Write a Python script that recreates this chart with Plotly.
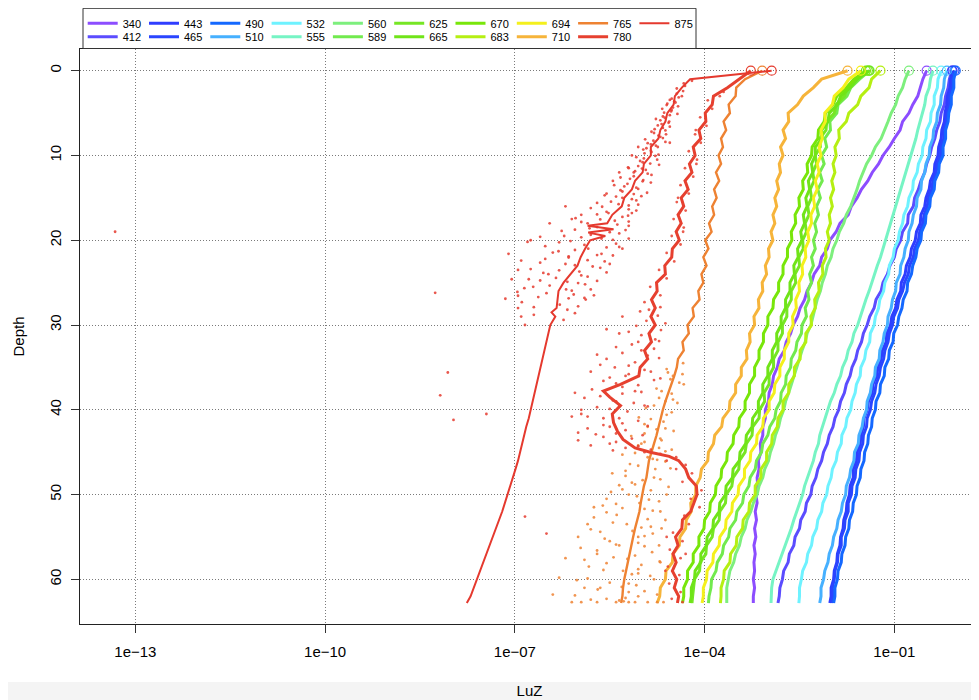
import plotly.graph_objects as go

# ---------------- data (log10 of LuZ) ----------------
depth_m = [0, 1, 2, 3, 4, 5, 6, 7, 8, 9,
           10, 11, 12, 13, 14, 15, 16, 17, 18, 19,
           20, 21, 22, 23, 24, 25, 26, 27, 28, 29,
           30, 31, 32, 33, 34, 35, 36, 37, 38, 39,
           40, 41, 42, 43, 44, 45, 46, 47, 48, 49,
           50, 51, 52, 53, 54, 55, 56, 57, 58, 59,
           60, 61, 62, 62.8]

depth_780 = [0, 1, 2, 3, 4, 5, 6, 7, 8, 9,
             10, 11, 12, 13, 14, 15, 16, 17, 18, 19,
             20, 21, 22, 23, 24, 25, 26, 27, 28, 29,
             30, 31, 32, 33, 34, 35, 36,
             37, 37.8, 38.5, 39.5, 40.5, 41.5, 42.5, 43.5, 44.5, 45, 45.5, 46,
             47, 48, 49, 50, 51, 52, 53, 54, 55, 56, 57, 58, 59, 60, 61, 62,
             62.8]

depth_875 = [0, 1, 2, 3, 4, 5, 6, 7, 8, 9, 10, 11, 12, 13, 14, 15, 16, 17,
             18, 18.3, 18.7, 19.1, 19.5, 20,
             21, 22, 23, 24, 25, 26, 27, 28,
             28.5, 29, 30,
             31, 32, 33, 34, 35, 36, 37, 38, 39, 40,
             41, 42, 43, 44, 45, 46, 47, 48, 49, 50,
             51, 52, 53, 54, 55, 56, 57, 58, 59, 60,
             61, 62,
             62.8]

luz_340 = [-0.49, -0.55, -0.59, -0.63, -0.71, -0.77, -0.87, -0.91, -1.00, -1.08,
           -1.18, -1.25, -1.35, -1.42, -1.52, -1.59, -1.68, -1.73, -1.86, -1.92,
           -2.02, -2.06, -2.15, -2.18, -2.27, -2.31, -2.38, -2.42, -2.49, -2.53,
           -2.60, -2.64, -2.71, -2.74, -2.82, -2.85, -2.91, -2.93, -2.98, -2.99,
           -3.04, -3.04, -3.08, -3.08, -3.12, -3.11, -3.15, -3.14, -3.17, -3.16,
           -3.19, -3.17, -3.20, -3.18, -3.21, -3.19, -3.22, -3.20, -3.22, -3.21,
           -3.23, -3.21, -3.23, -3.23]
luz_412 = [-0.09, -0.13, -0.15, -0.19, -0.21, -0.26, -0.28, -0.33, -0.36, -0.41,
           -0.44, -0.49, -0.52, -0.58, -0.62, -0.68, -0.70, -0.78, -0.79, -0.87,
           -0.90, -0.97, -1.00, -1.07, -1.11, -1.18, -1.21, -1.29, -1.32, -1.39,
           -1.43, -1.49, -1.52, -1.58, -1.61, -1.67, -1.70, -1.76, -1.79, -1.85,
           -1.88, -1.94, -1.97, -2.03, -2.06, -2.12, -2.15, -2.21, -2.24, -2.30,
           -2.32, -2.39, -2.41, -2.48, -2.50, -2.57, -2.59, -2.66, -2.68, -2.75,
           -2.77, -2.81, -2.82, -2.84]
luz_443 = [-0.08, -0.11, -0.12, -0.16, -0.17, -0.20, -0.21, -0.25, -0.26, -0.30,
           -0.31, -0.36, -0.37, -0.43, -0.45, -0.50, -0.52, -0.58, -0.59, -0.65,
           -0.67, -0.73, -0.75, -0.81, -0.83, -0.89, -0.90, -0.96, -0.98, -1.04,
           -1.06, -1.12, -1.13, -1.19, -1.21, -1.26, -1.28, -1.34, -1.35, -1.41,
           -1.43, -1.48, -1.49, -1.53, -1.54, -1.59, -1.60, -1.65, -1.65, -1.70,
           -1.71, -1.75, -1.76, -1.80, -1.81, -1.85, -1.86, -1.90, -1.91, -1.95,
           -1.96, -2.00, -2.00, -2.02]
luz_465 = [-0.05, -0.08, -0.09, -0.13, -0.13, -0.17, -0.18, -0.22, -0.22, -0.27,
           -0.27, -0.32, -0.34, -0.39, -0.41, -0.46, -0.48, -0.53, -0.55, -0.60,
           -0.62, -0.68, -0.70, -0.76, -0.78, -0.84, -0.87, -0.93, -0.95, -1.01,
           -1.03, -1.08, -1.10, -1.15, -1.17, -1.22, -1.24, -1.29, -1.31, -1.36,
           -1.38, -1.43, -1.44, -1.49, -1.50, -1.55, -1.56, -1.61, -1.62, -1.67,
           -1.68, -1.73, -1.73, -1.78, -1.79, -1.84, -1.84, -1.89, -1.90, -1.94,
           -1.95, -1.98, -1.97, -1.99]
luz_490 = [-0.03, -0.06, -0.06, -0.10, -0.10, -0.14, -0.15, -0.19, -0.19, -0.23,
           -0.23, -0.29, -0.30, -0.36, -0.37, -0.43, -0.44, -0.50, -0.51, -0.57,
           -0.58, -0.64, -0.66, -0.71, -0.73, -0.79, -0.80, -0.86, -0.88, -0.93,
           -0.95, -1.01, -1.02, -1.08, -1.09, -1.15, -1.16, -1.22, -1.23, -1.29,
           -1.30, -1.35, -1.36, -1.41, -1.42, -1.47, -1.48, -1.53, -1.54, -1.59,
           -1.60, -1.65, -1.66, -1.71, -1.72, -1.77, -1.78, -1.83, -1.84, -1.89,
           -1.90, -1.94, -1.94, -1.96]
luz_510 = [-0.17, -0.21, -0.22, -0.26, -0.27, -0.32, -0.33, -0.38, -0.39, -0.44,
           -0.45, -0.50, -0.52, -0.57, -0.58, -0.64, -0.65, -0.70, -0.72, -0.77,
           -0.78, -0.83, -0.85, -0.90, -0.91, -0.97, -0.98, -1.03, -1.05, -1.10,
           -1.11, -1.16, -1.18, -1.23, -1.24, -1.30, -1.31, -1.36, -1.38, -1.43,
           -1.44, -1.49, -1.51, -1.56, -1.57, -1.63, -1.64, -1.69, -1.71, -1.76,
           -1.77, -1.82, -1.84, -1.89, -1.91, -1.96, -1.98, -2.03, -2.05, -2.10,
           -2.12, -2.16, -2.16, -2.18]
luz_532 = [-0.26, -0.31, -0.32, -0.37, -0.37, -0.42, -0.43, -0.49, -0.50, -0.55,
           -0.56, -0.62, -0.64, -0.70, -0.71, -0.77, -0.79, -0.85, -0.87, -0.92,
           -0.94, -1.00, -1.02, -1.08, -1.09, -1.15, -1.17, -1.23, -1.25, -1.30,
           -1.32, -1.38, -1.39, -1.45, -1.47, -1.53, -1.54, -1.60, -1.62, -1.67,
           -1.69, -1.75, -1.77, -1.83, -1.84, -1.90, -1.92, -1.98, -2.00, -2.05,
           -2.07, -2.13, -2.15, -2.21, -2.23, -2.29, -2.31, -2.37, -2.39, -2.45,
           -2.47, -2.50, -2.50, -2.51]
luz_555 = [-0.39, -0.43, -0.45, -0.50, -0.52, -0.56, -0.59, -0.63, -0.66, -0.70,
           -0.73, -0.78, -0.81, -0.86, -0.89, -0.94, -0.97, -1.02, -1.05, -1.10,
           -1.13, -1.18, -1.22, -1.27, -1.31, -1.36, -1.40, -1.45, -1.49, -1.54,
           -1.58, -1.64, -1.67, -1.73, -1.76, -1.82, -1.85, -1.91, -1.95, -2.01,
           -2.05, -2.10, -2.13, -2.18, -2.20, -2.25, -2.28, -2.33, -2.37, -2.42,
           -2.45, -2.50, -2.54, -2.59, -2.63, -2.68, -2.72, -2.78, -2.82, -2.88,
           -2.92, -2.94, -2.94, -2.95]
luz_560 = [-0.77, -0.83, -0.87, -0.94, -0.98, -1.05, -1.10, -1.16, -1.21, -1.30,
           -1.36, -1.44, -1.50, -1.55, -1.59, -1.64, -1.69, -1.76, -1.80, -1.87,
           -1.91, -1.97, -2.00, -2.06, -2.09, -2.14, -2.17, -2.22, -2.25, -2.29,
           -2.32, -2.38, -2.41, -2.46, -2.50, -2.55, -2.58, -2.63, -2.67, -2.72,
           -2.75, -2.80, -2.83, -2.88, -2.91, -2.96, -2.99, -3.05, -3.08, -3.14,
           -3.17, -3.23, -3.27, -3.33, -3.36, -3.42, -3.45, -3.51, -3.54, -3.60,
           -3.63, -3.65, -3.65, -3.65]
luz_589 = [-1.39, -1.55, -1.69, -1.75, -1.89, -1.91, -2.02, -2.01, -2.10, -2.07,
           -2.15, -2.11, -2.18, -2.14, -2.21, -2.17, -2.23, -2.20, -2.26, -2.23,
           -2.28, -2.25, -2.31, -2.28, -2.34, -2.31, -2.37, -2.35, -2.41, -2.39,
           -2.46, -2.47, -2.54, -2.56, -2.63, -2.64, -2.71, -2.72, -2.79, -2.80,
           -2.87, -2.89, -2.97, -3.00, -3.08, -3.10, -3.18, -3.20, -3.28, -3.30,
           -3.38, -3.40, -3.49, -3.51, -3.60, -3.62, -3.70, -3.72, -3.80, -3.82,
           -3.89, -3.90, -3.93, -3.94]
luz_625 = [-1.42, -1.60, -1.74, -1.79, -1.92, -1.95, -2.07, -2.08, -2.18, -2.17,
           -2.25, -2.23, -2.29, -2.27, -2.33, -2.31, -2.37, -2.35, -2.41, -2.39,
           -2.45, -2.44, -2.51, -2.50, -2.57, -2.56, -2.63, -2.63, -2.70, -2.70,
           -2.77, -2.77, -2.84, -2.84, -2.91, -2.91, -2.98, -2.98, -3.06, -3.05,
           -3.13, -3.14, -3.24, -3.25, -3.34, -3.36, -3.45, -3.46, -3.55, -3.57,
           -3.66, -3.67, -3.76, -3.77, -3.86, -3.88, -3.97, -3.98, -4.07, -4.08,
           -4.16, -4.17, -4.19, -4.20]
luz_665 = [-1.40, -1.59, -1.70, -1.85, -1.90, -2.03, -2.05, -2.15, -2.14, -2.25,
           -2.25, -2.31, -2.29, -2.36, -2.34, -2.40, -2.38, -2.44, -2.42, -2.48,
           -2.46, -2.53, -2.52, -2.59, -2.58, -2.65, -2.65, -2.72, -2.72, -2.79,
           -2.79, -2.86, -2.86, -2.93, -2.93, -3.00, -3.00, -3.08, -3.08, -3.15,
           -3.15, -3.24, -3.25, -3.34, -3.35, -3.44, -3.45, -3.55, -3.56, -3.66,
           -3.67, -3.76, -3.77, -3.86, -3.87, -3.96, -3.97, -4.06, -4.06, -4.15,
           -4.16, -4.21, -4.21, -4.23]
luz_670 = [-1.45, -1.64, -1.76, -1.91, -1.97, -2.09, -2.11, -2.20, -2.21, -2.30,
           -2.31, -2.38, -2.37, -2.45, -2.44, -2.51, -2.50, -2.57, -2.56, -2.63,
           -2.62, -2.69, -2.69, -2.76, -2.76, -2.83, -2.83, -2.91, -2.92, -3.00,
           -3.00, -3.07, -3.07, -3.14, -3.14, -3.21, -3.21, -3.29, -3.29, -3.36,
           -3.36, -3.45, -3.46, -3.54, -3.55, -3.64, -3.65, -3.73, -3.74, -3.82,
           -3.83, -3.91, -3.92, -4.00, -4.01, -4.09, -4.09, -4.18, -4.18, -4.27,
           -4.27, -4.33, -4.33, -4.35]
luz_683 = [-1.22, -1.36, -1.40, -1.53, -1.58, -1.72, -1.76, -1.88, -1.87, -1.94,
           -1.92, -1.97, -1.94, -1.99, -1.96, -2.01, -1.98, -2.03, -2.01, -2.06,
           -2.03, -2.09, -2.08, -2.14, -2.13, -2.20, -2.19, -2.26, -2.25, -2.32,
           -2.31, -2.40, -2.40, -2.49, -2.49, -2.58, -2.58, -2.67, -2.67, -2.76,
           -2.76, -2.84, -2.85, -2.93, -2.94, -3.02, -3.02, -3.11, -3.11, -3.20,
           -3.20, -3.29, -3.30, -3.39, -3.40, -3.49, -3.50, -3.59, -3.60, -3.69,
           -3.70, -3.74, -3.74, -3.75]
luz_694 = [-1.53, -1.72, -1.81, -1.95, -1.98, -2.10, -2.09, -2.16, -2.14, -2.19,
           -2.16, -2.22, -2.19, -2.25, -2.22, -2.28, -2.26, -2.32, -2.31, -2.37,
           -2.35, -2.41, -2.40, -2.46, -2.45, -2.51, -2.50, -2.56, -2.55, -2.61,
           -2.60, -2.67, -2.67, -2.74, -2.74, -2.81, -2.81, -2.89, -2.90, -2.98,
           -2.98, -3.07, -3.08, -3.17, -3.18, -3.27, -3.28, -3.37, -3.37, -3.46,
           -3.47, -3.56, -3.57, -3.66, -3.67, -3.76, -3.77, -3.86, -3.87, -3.96,
           -3.97, -4.02, -4.02, -4.04]
luz_710 = [-1.74, -2.15, -2.28, -2.44, -2.53, -2.68, -2.67, -2.76, -2.72, -2.80,
           -2.76, -2.82, -2.80, -2.86, -2.83, -2.89, -2.86, -2.92, -2.89, -2.95,
           -2.92, -2.99, -2.98, -3.04, -3.02, -3.09, -3.08, -3.15, -3.14, -3.22,
           -3.21, -3.29, -3.28, -3.34, -3.33, -3.42, -3.42, -3.51, -3.51, -3.60,
           -3.61, -3.71, -3.73, -3.84, -3.86, -3.94, -3.95, -4.05, -4.07, -4.14,
           -4.14, -4.22, -4.21, -4.29, -4.30, -4.39, -4.40, -4.50, -4.51, -4.61,
           -4.62, -4.70, -4.71, -4.75]
luz_765 = [-3.09, -3.36, -3.50, -3.51, -3.62, -3.60, -3.70, -3.66, -3.74, -3.71,
           -3.78, -3.74, -3.82, -3.77, -3.85, -3.81, -3.88, -3.85, -3.93, -3.89,
           -3.99, -3.94, -4.02, -3.97, -4.05, -4.02, -4.10, -4.08, -4.19, -4.17,
           -4.27, -4.25, -4.35, -4.33, -4.42, -4.44, -4.48, -4.53, -4.58, -4.62,
           -4.66, -4.69, -4.72, -4.76, -4.80, -4.84, -4.88, -4.90, -4.92, -4.96,
           -4.99, -5.01, -5.03, -5.07, -5.10, -5.13, -5.16, -5.19, -5.22, -5.25,
           -5.27, -5.29, -5.30, -5.32]
luz_780 = [-3.27, -3.46, -3.64, -3.86, -3.88, -3.99, -3.98, -4.09, -4.06, -4.18,
           -4.15, -4.24, -4.20, -4.31, -4.26, -4.37, -4.33, -4.42, -4.37, -4.45,
           -4.40, -4.51, -4.52, -4.63, -4.62, -4.76, -4.75, -4.84, -4.78, -4.85,
           -4.78, -4.88, -4.84, -4.95, -4.90, -5.02, -5.04,
           -5.33, -5.60, -5.50, -5.33, -5.46, -5.44, -5.38, -5.29, -5.10, -4.86, -4.56, -4.41,
           -4.30, -4.25, -4.13, -4.12, -4.17, -4.22, -4.35, -4.36, -4.46, -4.42, -4.50, -4.45,
           -4.51, -4.44, -4.48, -4.41,
           -4.43]
luz_875 = [-2.94, -4.23, -4.36, -4.47, -4.49, -4.59, -4.62, -4.70, -4.73, -4.85,
           -4.85, -4.96, -4.98, -5.10, -5.15, -5.27, -5.31, -5.46,
           -5.54, -5.85, -5.44, -5.84, -5.57, -5.81,
           -5.89, -5.96, -6.01, -6.12, -6.23, -6.31, -6.33, -6.34,
           -6.42, -6.36, -6.44,
           -6.47, -6.50, -6.53, -6.56, -6.59, -6.62, -6.66, -6.69, -6.72, -6.75,
           -6.78, -6.82, -6.85, -6.88, -6.92, -6.95, -6.99, -7.03, -7.07, -7.11,
           -7.15, -7.20, -7.25, -7.30, -7.35, -7.40, -7.45, -7.50, -7.55, -7.60,
           -7.65, -7.70,
           -7.76]

# raw (scattered) measurements for the weak red / orange channels
raw875_depth = [1.2, 1.5, 1.8, 2.1, 2.4, 2.7, 3.0, 3.3, 3.6, 3.9,
                4.2, 4.5, 4.8, 5.1, 5.4, 5.7, 6.0, 6.3, 6.6, 6.9,
                7.2, 7.5, 7.8, 8.1, 8.4, 8.7, 9.0, 9.3, 9.6, 9.9,
                10.2, 10.5, 10.8, 11.1, 11.4, 11.7, 12.0, 12.3, 12.6, 12.9,
                13.2, 13.5, 13.8, 14.1, 14.4, 14.7, 15.0, 15.3, 15.6, 15.9,
                16.2, 16.5, 16.8, 17.1, 17.4, 17.7, 18.0, 18.3, 18.6, 18.9,
                19.2, 19.5, 19.8, 20.1, 20.4, 20.7, 21.0, 21.3, 21.6, 21.9,
                22.2, 22.5, 22.8, 23.1, 23.4, 23.7, 24.0, 24.3, 24.6, 24.9,
                25.2, 25.5, 25.8, 26.1, 26.4, 26.7, 27.0, 27.3, 27.6, 27.9,
                28.2, 28.8, 29.4, 30.0,
                14.5, 17.5, 20.0, 21.0, 23.5, 26.5, 11.5, 8.5,
                19.0, 26.2, 35.6, 38.3, 40.5, 41.2, 52.6, 54.6,
                3.15, 3.45, 3.75, 4.05, 4.35, 4.65, 4.95, 5.25, 5.55, 5.85,
                6.15, 6.45, 6.75, 7.05, 7.35, 7.65, 7.95, 8.25, 8.55, 8.85,
                9.15, 9.45, 9.75, 10.05, 10.35, 10.65, 10.95, 11.25, 11.55, 11.85,
                12.15, 12.45, 12.75, 13.05, 13.35, 13.65, 13.95, 14.25, 14.55, 14.85,
                15.15, 15.45, 15.75, 16.05, 16.35, 16.65, 16.95, 17.25, 17.55, 17.85,
                18.15, 18.45, 18.75, 19.05, 19.35, 19.65, 19.95, 20.25, 20.55, 20.85,
                21.15, 21.45, 21.75, 22.05, 22.35, 22.65, 22.95, 23.25, 23.55, 23.85,
                24.15, 24.45, 24.75, 25.05, 25.35, 25.65, 25.95, 26.25, 26.55, 26.85,
                14.8, 15.8, 16.8, 17.8, 18.8, 19.8, 20.8, 21.8, 22.8, 23.8,
                24.8, 25.8, 26.8, 27.8, 28.6, 16.0, 18.0, 20.2, 22.4, 24.6,
                26.9, 28.0, 29.0, 21.6, 19.6, 17.0, 13.0, 12.0, 10.0, 9.0]
raw875_log = [-4.20, -4.33, -4.31, -4.44, -4.34, -4.44, -4.36, -4.52, -4.48, -4.59,
              -4.42, -4.67, -4.53, -4.43, -4.66, -4.77, -4.56, -4.68, -4.55, -4.79,
              -4.84, -4.61, -4.70, -4.94, -4.62, -4.85, -4.74, -4.97, -4.84, -4.73,
              -5.08, -4.75, -4.98, -4.72, -5.21, -4.93, -5.12, -4.84, -5.33, -4.97,
              -4.85, -5.43, -5.08, -5.33, -4.91, -5.58, -5.30, -5.08, -5.70, -5.20,
              -5.80, -5.08, -5.52, -5.21, -6.04, -5.42, -5.85, -5.20, -5.82, -6.26,
              -5.35, -6.22, -5.63, -6.12, -5.40, -6.52, -5.84, -6.31, -5.63, -6.15,
              -6.52, -5.58, -6.20, -5.77, -6.75, -5.98, -6.47, -5.85, -6.78, -6.17,
              -5.89, -6.71, -6.19, -6.96, -6.07, -6.63, -5.88, -6.89, -6.29, -6.70,
              -6.17, -6.70, -6.23, -6.84,
              -5.55, -6.10, -6.75, -5.30, -6.95, -5.75, -5.20, -4.55,
              -13.32, -8.26, -8.06, -8.18, -7.45, -7.97, -6.84, -6.50,
              -4.41, -4.55, -4.46, -4.60, -4.50, -4.52, -4.64, -4.55, -4.63, -4.70,
              -4.57, -4.74, -4.66, -4.62, -4.80, -4.73, -4.66, -4.81, -4.90, -4.77,
              -4.92, -4.85, -4.95, -4.78, -4.96, -5.02, -4.86, -5.05, -4.99, -5.10,
              -4.90, -5.12, -5.18, -4.98, -5.22, -5.27, -5.05, -5.30, -5.12, -5.40,
              -5.15, -5.48, -5.36, -5.62, -5.20, -5.55, -5.70, -5.30, -5.65, -5.95,
              -5.38, -5.70, -6.05, -5.50, -5.80, -5.95, -5.45, -6.30, -5.90, -5.55,
              -6.05, -6.40, -5.70, -6.15, -5.85, -6.60, -6.05, -5.65, -6.30, -6.55,
              -5.95, -6.35, -6.60, -6.00, -6.45, -6.85, -6.10, -6.50, -6.95, -6.15,
              -5.00, -5.05, -5.15, -5.20, -5.25, -5.20, -5.35, -5.45, -5.50, -5.55,
              -5.70, -5.80, -5.90, -6.00, -6.05, -6.20, -6.45, -6.80, -6.90, -7.05,
              -7.15, -6.95, -6.90, -7.10, -6.60, -5.95, -5.45, -5.35, -5.15, -5.05]

raw780_depth = [27.3, 27.9, 28.4, 28.9, 29.5, 30.1, 30.6, 31.2, 31.7, 32.3,
                32.8, 33.3, 33.9, 34.4, 35.0, 35.5, 36.0, 36.6, 37.1, 37.6,
                38.1, 38.6, 39.2, 39.7, 40.2, 40.8, 41.3, 41.8, 42.4, 42.9,
                43.4, 44.0, 44.5, 45.0, 34.0, 36.3, 38.9, 41.0, 43.0, 31.0,
                33.0, 35.8, 37.9, 40.0, 42.0, 44.2, 29.0, 39.5, 42.7, 36.9,
                2.5, 3.5, 4.5, 5.5, 6.5, 7.5, 8.5, 9.5, 10.5, 11.5,
                12.5, 13.5, 14.5, 15.5, 16.5, 17.5, 18.5, 19.5, 20.5, 21.5,
                22.5, 23.5, 24.5, 25.5, 26.5, 3.0, 7.0, 11.0, 15.0, 19.0,
                28.2, 29.8, 30.8, 31.9, 32.6, 33.6, 34.7, 35.3, 36.2, 37.3,
                37.8, 38.4, 39.0, 39.9, 40.5, 41.0, 41.6, 42.2, 42.8, 43.2,
                43.8, 44.3, 44.8, 45.2, 45.6, 46.0, 46.5, 47.0, 33.5, 35.5,
                38.0, 40.8, 43.6, 30.5, 36.5, 39.6, 41.9, 44.7, 32.0, 34.8,
                47.5, 48.5, 49.5, 50.5, 51.5, 52.5, 53.5, 54.5, 55.5, 56.5,
                57.5, 58.5, 59.5, 60.5, 61.5, 62.3, 62.7, 55.0, 57.0, 59.0]
raw780_log = [-4.95, -4.70, -5.02, -4.74, -4.92, -5.08, -4.69, -5.00, -4.78, -5.15,
              -4.80, -5.30, -4.72, -5.10, -5.42, -4.85, -5.25, -5.60, -5.05, -5.78,
              -5.30, -5.90, -5.12, -5.70, -5.22, -5.85, -5.05, -5.60, -5.25, -5.72,
              -5.15, -5.50, -5.25, -4.95, -5.55, -4.70, -5.45, -5.35, -4.98, -5.35,
              -5.00, -5.20, -5.00, -5.95, -5.50, -5.80, -5.30, -4.95, -6.00, -5.40,
              -3.70, -3.95, -3.88, -4.07, -3.97, -4.15, -4.06, -4.25, -4.12, -4.31,
              -4.18, -4.38, -4.25, -4.44, -4.30, -4.49, -4.33, -4.52, -4.38, -4.60,
              -4.48, -4.72, -4.60, -4.86, -4.70, -3.76, -4.14, -4.13, -4.42, -4.34,
              -4.88, -4.62, -5.20, -4.72, -5.40, -4.90, -5.65, -4.95, -5.50, -5.30,
              -5.10, -5.65, -5.40, -5.50, -5.95, -5.60, -5.30, -5.85, -5.40, -5.60,
              -5.40, -5.05, -5.45, -4.70, -4.45, -4.60, -4.30, -4.45, -5.70, -5.80,
              -6.05, -6.10, -6.00, -5.55, -4.80, -4.90, -4.90, -4.85, -5.05, -5.20,
              -4.20, -4.35, -4.05, -4.22, -4.08, -4.32, -4.25, -4.50, -4.35, -4.55,
              -4.38, -4.58, -4.40, -4.56, -4.38, -4.52, -4.35, -4.60, -4.30, -4.62]

raw765_depth = [34.5, 35.2, 35.8, 36.4, 37.0, 37.5, 38.1, 38.6, 39.2, 39.8,
                40.3, 40.9, 41.4, 42.0, 42.5, 43.1, 43.6, 44.2, 44.7, 45.3,
                45.8, 46.4, 46.9, 47.5, 48.0, 48.6, 49.1, 49.7, 50.2, 50.8,
                51.3, 51.9, 52.4, 53.0, 53.5, 54.1, 54.6, 55.2, 55.7, 56.3,
                56.8, 57.4, 57.9, 58.5, 59.0, 59.6, 60.1, 60.7, 61.2, 61.8,
                62.3, 62.7, 62.7, 62.7, 62.7, 62.7, 62.7, 41.7, 44.9, 47.2,
                49.4, 51.6, 53.8, 55.9, 58.1, 60.4, 62.0, 46.1, 50.5, 54.9,
                57.0, 59.3, 61.5, 43.8, 48.8, 52.7, 56.0, 58.8, 61.0, 62.5,
                36.0, 39.0, 42.3, 45.6, 48.3, 51.0, 54.3, 57.6, 60.9, 62.6,
                35.6, 36.8, 37.8, 38.8, 39.5, 40.6, 41.1, 42.2, 42.8, 43.4,
                44.0, 44.5, 45.1, 45.9, 46.6, 47.0, 47.8, 48.2, 48.9, 49.5,
                50.0, 50.6, 51.1, 51.7, 52.1, 52.9, 53.3, 53.9, 54.4, 55.0,
                55.5, 56.1, 56.6, 57.2, 57.7, 58.3, 58.9, 59.4, 59.9, 60.5,
                61.0, 61.4, 61.9, 62.2, 62.4, 62.7, 62.7, 62.7, 60.0, 58.0,
                56.0, 54.0, 52.0, 50.0, 55.0, 57.5, 59.8, 61.8, 53.5, 51.5]
raw765_log = [-4.34, -4.60, -4.35, -4.54, -4.33, -4.76, -4.52, -4.72, -4.43, -4.93,
              -4.52, -5.04, -4.65, -4.90, -4.49, -5.16, -4.68, -5.05, -4.52, -5.30,
              -4.82, -5.18, -4.54, -5.46, -4.80, -5.15, -4.57, -5.48, -5.07, -4.72,
              -5.61, -4.82, -5.39, -4.62, -5.23, -5.80, -4.82, -5.58, -5.05, -5.96,
              -4.83, -5.44, -4.71, -5.83, -5.29, -4.86, -6.02, -5.08, -5.69, -4.75,
              -5.55, -5.95, -5.70, -5.40, -5.10, -4.90, -4.65, -4.95, -4.62, -5.25,
              -5.30, -5.30, -4.85, -5.40, -5.55, -5.50, -5.05, -4.62, -5.55, -4.95,
              -5.70, -5.05, -5.20, -4.95, -5.10, -5.75, -5.35, -5.05, -5.90, -5.35,
              -4.50, -4.62, -4.76, -4.90, -4.98, -5.03, -5.14, -5.22, -5.31, -5.28,
              -4.58, -4.40, -4.68, -4.50, -4.80, -4.60, -4.85, -4.62, -4.95, -4.70,
              -5.00, -4.72, -5.10, -4.75, -5.05, -4.78, -5.25, -4.70, -5.35, -4.85,
              -5.20, -4.88, -5.40, -4.95, -5.55, -4.90, -5.45, -5.00, -5.65, -5.05,
              -5.50, -4.95, -5.70, -5.10, -5.90, -5.00, -5.60, -5.15, -5.85, -5.20,
              -5.65, -4.95, -6.05, -5.25, -5.80, -6.10, -5.20, -4.75, -4.80, -4.70,
              -4.72, -4.68, -4.70, -4.60, -6.00, -6.20, -6.30, -6.40, -5.85, -5.75]

wavelengths = ["340", "412", "443", "465", "490", "510", "532", "555", "560", "589",
               "625", "665", "670", "683", "694", "710", "765", "780", "875"]
colors = ["#8C4DFF", "#5B4CFF", "#2F3DFF", "#2A45FF", "#1468FF", "#46B0FF", "#6EF2FF",
          "#76F4C4", "#7DEF7D", "#72EA4E", "#76E624", "#70E418", "#78E60A", "#B5EF12",
          "#F4F01C", "#F6B43A", "#EE8232", "#E6402F", "#E5392E"]
legend_row1 = ["340", "443", "490", "532", "560", "625", "670", "694", "765", "875"]

x_tick_vals = [1e-13, 1e-10, 1e-7, 1e-4, 1e-1]
x_tick_text = ["1e\u221213", "1e\u221210", "1e\u221207", "1e\u221204", "1e\u221201"]
y_tick_vals = [0, 10, 20, 30, 40, 50, 60]

# ---------------- figure ----------------
profiles = {
    "340": (depth_m, luz_340), "412": (depth_m, luz_412), "443": (depth_m, luz_443),
    "465": (depth_m, luz_465), "490": (depth_m, luz_490), "510": (depth_m, luz_510),
    "532": (depth_m, luz_532), "555": (depth_m, luz_555), "560": (depth_m, luz_560),
    "589": (depth_m, luz_589), "625": (depth_m, luz_625), "665": (depth_m, luz_665),
    "670": (depth_m, luz_670), "683": (depth_m, luz_683), "694": (depth_m, luz_694),
    "710": (depth_m, luz_710), "765": (depth_m, luz_765), "780": (depth_780, luz_780),
    "875": (depth_875, luz_875),
}
raw_points = {
    "765": (raw765_depth, raw765_log),
    "780": (raw780_depth, raw780_log),
    "875": (raw875_depth, raw875_log),
}
line_widths = {"765": 2.4, "875": 2.0}

fig = go.Figure()

for wl, col in zip(wavelengths, colors):
    d, v = profiles[wl]
    pairs = list(zip(d, v))
    xs = [10 ** p[1] for p in pairs]
    ys = [p[0] for p in pairs]
    lw = line_widths.get(wl, 3.0)
    if wl in raw_points:
        rd, rv = raw_points[wl]
        rp = list(zip(rd, rv))
        fig.add_trace(go.Scatter(
            x=[10 ** p[1] for p in rp], y=[p[0] for p in rp], mode="markers",
            marker=dict(size=2.8, color=col, opacity=0.85), showlegend=False,
            hoverinfo="skip"))
    fig.add_trace(go.Scatter(
        x=xs, y=ys, mode="lines", name=wl,
        line=dict(color=col, width=lw),
        legend="legend" if wl in legend_row1 else "legend2",
        showlegend=True))
    fig.add_trace(go.Scatter(
        x=xs[:1], y=ys[:1], mode="markers", showlegend=False,
        marker=dict(symbol="circle-open", size=9, color=col, line=dict(width=1.2, color=col)),
        hoverinfo="skip"))

# The page body adds an 8 px offset; the figure is sized so that the plot
# area lands at x 80..979, y 49..624 of the 979x700 window.
PLOT_H = 575.0


def py(pix):
    return (624.0 - pix) / PLOT_H


def px(pix):
    return (pix - 80.0) / 899.0


legend_common = dict(orientation="h", xanchor="left", yanchor="middle",
                     font=dict(size=11, color="black"), bgcolor="rgba(0,0,0,0)",
                     borderwidth=0, entrywidth=16.3, entrywidthmode="pixels",
                     itemwidth=30, traceorder="normal", itemclick=False)

grid_dash = "1px,2px"

fig.update_layout(
    width=971, height=692,
    margin=dict(l=72, r=0, t=41, b=76, pad=0),
    paper_bgcolor="white", plot_bgcolor="white",
    font=dict(family="Liberation Sans, Arial, Helvetica, sans-serif", size=15, color="black"),
    legend=dict(x=px(82.7), y=py(23.3), **legend_common),
    legend2=dict(x=px(82.7), y=py(36.7), **legend_common),
    xaxis=dict(type="log", range=[-13.875, 0.338], tickvals=x_tick_vals, ticktext=x_tick_text,
               ticks="outside", ticklen=8, tickwidth=1, tickcolor="#333",
               showline=True, linecolor="#222", linewidth=1, mirror=True,
               showgrid=True, gridcolor="#7a7a7a", griddash=grid_dash, gridwidth=1,
               zeroline=False, automargin=False, ticklabelstandoff=6,
               title=dict(text="LuZ", standoff=26, font=dict(size=15))),
    yaxis=dict(range=[65.27, -2.56], tickvals=y_tick_vals, tickangle=-90,
               ticks="outside", ticklen=8, tickwidth=1, tickcolor="#333",
               showline=True, linecolor="#222", linewidth=1, mirror=False,
               showgrid=True, gridcolor="#7a7a7a", griddash=grid_dash, gridwidth=1,
               zeroline=False, automargin=False, ticklabelstandoff=4,
               title=dict(text="Depth", standoff=18, font=dict(size=15))),
    shapes=[
        dict(type="rect", xref="paper", yref="paper", x0=px(83), x1=px(696),
             y0=py(48.5), y1=py(8.3), line=dict(color="#333", width=1),
             fillcolor="rgba(0,0,0,0)", layer="above"),
        dict(type="rect", xref="paper", yref="paper", x0=px(8), x1=px(979),
             y0=py(700), y1=py(682), line=dict(width=0), fillcolor="#f4f4f4",
             layer="below"),
    ],
)

fig.write_html("out.html")
